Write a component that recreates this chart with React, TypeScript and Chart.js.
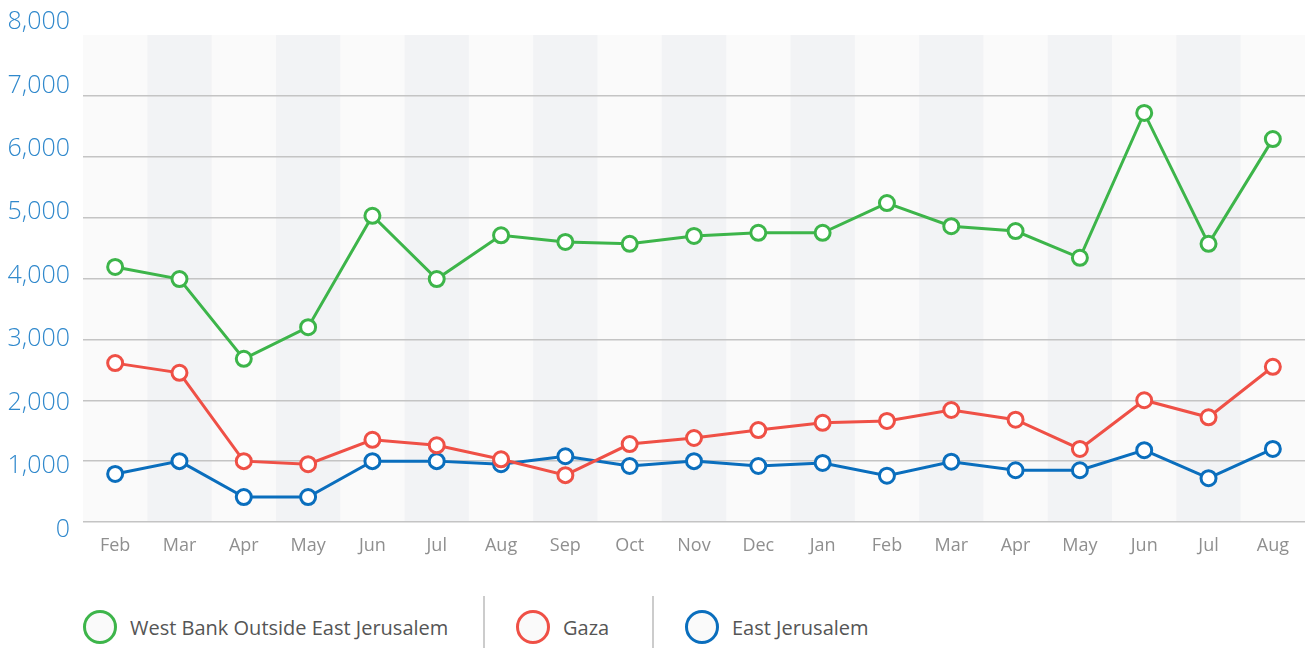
import React, { useEffect, useRef } from "react";
import { Chart, registerables } from "chart.js";

Chart.register(...registerables);

const months = ["Feb", "Mar", "Apr", "May", "Jun", "Jul", "Aug", "Sep", "Oct", "Nov", "Dec", "Jan", "Feb", "Mar", "Apr", "May", "Jun", "Jul", "Aug"];
const westBank = [4190, 3990, 2680, 3200, 5030, 3990, 4710, 4600, 4570, 4700, 4750, 4750, 5240, 4860, 4780, 4340, 6720, 4570, 6290];
const gaza = [2610, 2450, 1000, 950, 1350, 1260, 1030, 770, 1280, 1380, 1510, 1630, 1660, 1840, 1680, 1200, 2000, 1720, 2550];
const eastJerusalem = [790, 1000, 410, 410, 1000, 1000, 950, 1080, 920, 1000, 920, 970, 760, 990, 850, 850, 1180, 720, 1200];
const yTicks = [0, 1000, 2000, 3000, 4000, 5000, 6000, 7000, 8000];

const seriesNames = ["West Bank Outside East Jerusalem", "Gaza", "East Jerusalem"];
const seriesColors = ["#3db54a", "#ef5046", "#0a6ebd"];

const FONT = '"Open Sans", "Noto Sans", sans-serif';

const bandsPlugin = {
  id: "bands",
  beforeDraw(chart: any) {
    const { ctx, chartArea } = chart;
    const x = chart.scales.x;
    ctx.save();
    ctx.fillStyle = "#fafafa";
    ctx.fillRect(chartArea.left, chartArea.top, chartArea.right - chartArea.left, chartArea.bottom - chartArea.top);
    const w = (chartArea.right - chartArea.left) / months.length;
    ctx.fillStyle = "#f2f3f5";
    months.forEach((_, i) => {
      if (i % 2 === 1) {
        const cx = x.getPixelForValue(i);
        ctx.fillRect(cx - w / 2, chartArea.top, w, chartArea.bottom - chartArea.top);
      }
    });
    ctx.restore();
  },
};

const yLabelPlugin = {
  id: "yLabels",
  afterDraw(chart: any) {
    const { ctx } = chart;
    const y = chart.scales.y;
    ctx.save();
    ctx.font = `300 25px ${FONT}`;
    ctx.fillStyle = "#2f88cc";
    ctx.textAlign = "right";
    ctx.textBaseline = "middle";
    yTicks.forEach((v) => {
      const py = y.getPixelForValue(v) + 7.5 - (v / 8000) * 20.5;
      ctx.fillText(v.toLocaleString("en-US"), 70, py);
    });
    ctx.restore();
  },
};

export default function App() {
  const ref = useRef<HTMLCanvasElement>(null);

  useEffect(() => {
    const mk = (label: string, data: number[], color: string) => ({
      label,
      data,
      borderColor: color,
      backgroundColor: "#ffffff",
      borderWidth: 3,
      pointRadius: 7.5,
      pointBorderWidth: 3,
      pointBackgroundColor: "#ffffff",
      pointBorderColor: color,
      tension: 0,
    });
    const chart = new Chart(ref.current as HTMLCanvasElement, {
      type: "line",
      data: {
        labels: months,
        datasets: [
          mk(seriesNames[0], westBank, seriesColors[0]),
          mk(seriesNames[1], gaza, seriesColors[1]),
          mk(seriesNames[2], eastJerusalem, seriesColors[2]),
        ],
      },
      options: {
        responsive: false,
        animation: false,
        layout: { autoPadding: false, padding: { top: 35, right: 0, left: 0, bottom: 0 } },
        plugins: { legend: { display: false }, tooltip: { enabled: false } },
        scales: {
          x: {
            offset: true,
            grid: { display: false, drawTicks: false },
            border: { display: false },
            ticks: { color: "#8f8f8f", font: { family: FONT, size: 18, weight: 400 as any }, padding: 13, maxRotation: 0, autoSkip: false },
            afterFit: (s: any) => { s.height = 68; },
          },
          y: {
            min: 0,
            max: 8000,
            grid: {
              color: (c: any) => (c.tick && c.tick.value === 8000 ? "rgba(0,0,0,0)" : "#c4c4c4"),
              lineWidth: 1.5,
              drawTicks: false,
            },
            border: { display: false },
            ticks: { display: false, stepSize: 1000 },
            afterFit: (s: any) => { s.width = 83; },
          },
        },
      },
      plugins: [bandsPlugin, yLabelPlugin],
    });
    return () => chart.destroy();
  }, []);

  const legendItems = [
    { circle: 83, text: 130 },
    { circle: 516, text: 563 },
    { circle: 685, text: 732 },
  ];

  return (
    <div style={{ position: "absolute", left: 0, top: 0, width: 1305, height: 648, background: "#fff", overflow: "hidden" }}>
      <canvas ref={ref} width={1305} height={590} style={{ position: "absolute", left: 0, top: 0, width: 1305, height: 590 }} />
      {legendItems.map((it, i) => (
        <React.Fragment key={i}>
          <div
            style={{
              position: "absolute",
              left: it.circle,
              top: 610,
              width: 34,
              height: 34,
              boxSizing: "border-box",
              borderRadius: "50%",
              border: `3px solid ${seriesColors[i]}`,
              background: "#fafafa",
            }}
          />
          <div
            style={{
              position: "absolute",
              left: it.text,
              top: 627,
              transform: "translateY(-50%)",
              fontFamily: FONT,
              fontSize: 20,
              color: "#555",
              whiteSpace: "nowrap",
            }}
          >
            {seriesNames[i]}
          </div>
        </React.Fragment>
      ))}
      <div style={{ position: "absolute", left: 483, top: 596, width: 1.5, height: 60, background: "#cccccc" }} />
      <div style={{ position: "absolute", left: 652, top: 596, width: 1.5, height: 60, background: "#cccccc" }} />
    </div>
  );
}
